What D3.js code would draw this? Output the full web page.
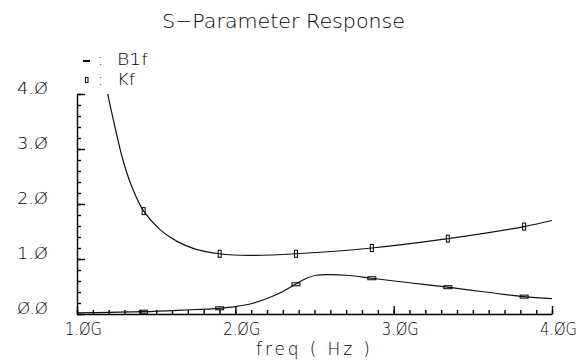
<!DOCTYPE html>
<html>
<head>
<meta charset="utf-8">
<script src="https://cdn.jsdelivr.net/npm/d3@7"></script>
<style>
  body { margin: 0; background: #fff; }
  svg text { font-family: "DejaVu Sans", sans-serif; font-weight: 200; fill: #000; }
</style>
</head>
<body>
<div id="chart"></div>
<script>
// curve samples (freq in GHz)
var freqB1f = [1.0, 1.2, 1.42, 1.66, 1.9, 2.0, 2.11, 2.22, 2.3, 2.38, 2.45, 2.51, 2.6, 2.72, 2.86, 3.1, 3.34, 3.58, 3.82, 4.0];
var b1f = [0.02, 0.03, 0.042, 0.07, 0.104, 0.133, 0.195, 0.305, 0.41, 0.54, 0.65, 0.705, 0.717, 0.70, 0.65, 0.568, 0.487, 0.40, 0.316, 0.28];

var freqKf = [1.1, 1.15, 1.194, 1.232, 1.295, 1.358, 1.421, 1.526, 1.632, 1.747, 1.901, 2.093, 2.383, 2.862, 3.342, 3.824, 4.0];
var kf = [6.0, 4.85, 4.01, 3.5, 2.75, 2.23, 1.87, 1.53, 1.32, 1.18, 1.095, 1.065, 1.095, 1.20, 1.37, 1.59, 1.70];

// marker positions
var markFreq = [1.421, 1.901, 2.383, 2.862, 3.342, 3.824];
var markB1f = [0.042, 0.104, 0.54, 0.65, 0.487, 0.316];
var markKf = [1.87, 1.095, 1.095, 1.20, 1.37, 1.59];

var xTicks = [1, 2, 3, 4];
var yTicks = [0, 1, 2, 3, 4];

var width = 587, height = 363;

var svg = d3.select("#chart")
  .append("svg")
    .attr("width", width)
    .attr("height", height);

var x = d3.scaleLinear().domain([1, 4]).range([77, 552]);
var y = d3.scaleLinear().domain([0, 4]).range([314, 94]);

function fmt(d) {
	return d.toFixed(1).replace(/0/g, "Ø");
}

// minor ticks
svg.append("g")
    .attr("transform", "translate(0," + y(0) + ")")
    .call(d3.axisBottom(x).tickValues(d3.range(10, 41).map(function(d) { return d / 10; }))
      .tickSize(-4).tickSizeOuter(0).tickFormat(""))
    .call(function(g) { g.select(".domain").remove(); });

svg.append("g")
    .attr("transform", "translate(" + x(1) + ",0)")
    .call(d3.axisLeft(y).tickValues(d3.range(0, 21).map(function(d) { return d / 5; }))
      .tickSize(-4).tickSizeOuter(0).tickFormat(""))
    .call(function(g) { g.select(".domain").remove(); });

// major ticks + labels
var xAxis = svg.append("g")
    .attr("transform", "translate(0," + y(0) + ")")
    .call(d3.axisBottom(x).tickValues(xTicks).tickSize(-8).tickSizeOuter(0)
      .tickPadding(10).tickFormat(function(d) { return fmt(d) + "G"; }));

xAxis.selectAll("text")
    .attr("font-size", 17)
    .attr("dx", 6)
    .attr("dy", "0.62em")
    .attr("textLength", 37)
    .attr("lengthAdjust", "spacingAndGlyphs");

var yAxis = svg.append("g")
    .attr("transform", "translate(" + x(1) + ",0)")
    .call(d3.axisLeft(y).tickValues(yTicks).tickSize(-8).tickSizeOuter(0)
      .tickPadding(29).tickFormat(fmt));

yAxis.selectAll("text")
    .attr("font-size", 16)
    .attr("dy", -1)
    .attr("textLength", 31)
    .attr("lengthAdjust", "spacingAndGlyphs");

svg.selectAll(".domain, .tick line")
    .attr("stroke", "#000")
    .attr("stroke-width", 1.4);
svg.selectAll("g text").attr("font-family", null);

// curves
svg.append("defs").append("clipPath")
    .attr("id", "plot")
  .append("rect")
    .attr("x", x(1))
    .attr("y", y(4))
    .attr("width", x(4) - x(1))
    .attr("height", y(0) - y(4));

var line = d3.line()
    .x(function(d) { return x(d[0]); })
    .y(function(d) { return y(d[1]); })
    .curve(d3.curveCatmullRom.alpha(0.5));

var plot = svg.append("g").attr("clip-path", "url(#plot)");

plot.append("path")
    .datum(d3.zip(freqKf, kf))
    .attr("d", line)
    .attr("fill", "none")
    .attr("stroke", "#111")
    .attr("stroke-width", 1.2);

plot.append("path")
    .datum(d3.zip(freqB1f, b1f))
    .attr("d", line)
    .attr("fill", "none")
    .attr("stroke", "#111")
    .attr("stroke-width", 1.2);

// markers
svg.append("g").selectAll("rect")
    .data(d3.zip(markFreq, markKf))
  .enter().append("rect")
    .attr("x", function(d) { return x(d[0]) - 1.5; })
    .attr("y", function(d) { return y(d[1]) - 3.5; })
    .attr("width", 3)
    .attr("height", 7)
    .attr("fill", "none")
    .attr("stroke", "#000")
    .attr("stroke-width", 1);

svg.append("g").selectAll("rect")
    .data(d3.zip(markFreq, markB1f))
  .enter().append("rect")
    .attr("x", function(d) { return x(d[0]) - 4; })
    .attr("y", function(d) { return y(d[1]) - 1.5; })
    .attr("width", 8)
    .attr("height", 3)
    .attr("fill", "none")
    .attr("stroke", "#000")
    .attr("stroke-width", 1);

// legend
svg.append("rect")
    .attr("x", 83).attr("y", 60)
    .attr("width", 7).attr("height", 2)
    .attr("fill", "#000");
svg.append("rect")
    .attr("x", 85.5).attr("y", 77.5)
    .attr("width", 2.5).attr("height", 5)
    .attr("fill", "none")
    .attr("stroke", "#000")
    .attr("stroke-width", 1);

svg.append("text").attr("x", 98).attr("y", 65).attr("font-size", 15).text(":");
svg.append("text").attr("x", 98).attr("y", 85).attr("font-size", 15).text(":");
svg.append("text").attr("x", 117).attr("y", 65).attr("font-size", 15)
    .attr("textLength", 31).attr("lengthAdjust", "spacingAndGlyphs").text("B1f");
svg.append("text").attr("x", 117).attr("y", 85).attr("font-size", 15)
    .attr("textLength", 18).attr("lengthAdjust", "spacingAndGlyphs").text("Kf");

// title and axis label
svg.append("text")
    .attr("x", 162)
    .attr("y", 28)
    .attr("font-size", 20)
    .attr("textLength", 243)
    .attr("lengthAdjust", "spacingAndGlyphs")
    .text("S\u2212Parameter Response");

svg.append("text")
    .attr("x", 256)
    .attr("y", 355)
    .attr("font-size", 17)
    .attr("textLength", 114)
    .attr("lengthAdjust", "spacing")
    .text("freq ( Hz )");
</script>
</body>
</html>
